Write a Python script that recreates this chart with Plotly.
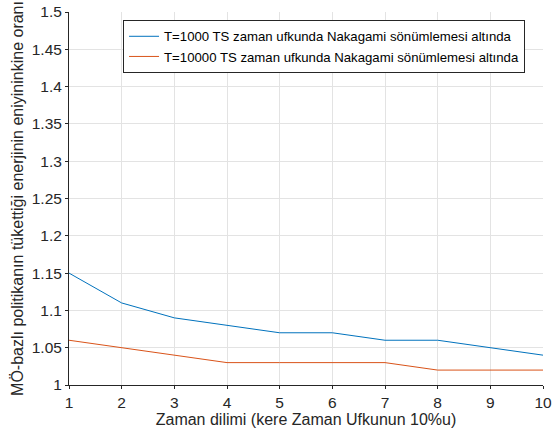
import plotly.graph_objects as go

x_vals = [1, 2, 3, 4, 5, 6, 7, 8, 9, 10]
t1000 = [1.15, 1.11, 1.09, 1.08, 1.07, 1.07, 1.06, 1.06, 1.05, 1.04]
t10000 = [1.06, 1.05, 1.04, 1.03, 1.03, 1.03, 1.03, 1.02, 1.02, 1.02]
names = ["T=1000 TS zaman ufkunda Nakagami sönümlemesi altında",
         "T=10000 TS zaman ufkunda Nakagami sönümlemesi altında"]
y_ticks = [1, 1.05, 1.1, 1.15, 1.2, 1.25, 1.3, 1.35, 1.4, 1.45, 1.5]
y_tick_text = ["1", "1.05", "1.1", "1.15", "1.2", "1.25", "1.3", "1.35", "1.4", "1.45", "1.5"]

fig = go.Figure()
fig.add_trace(go.Scatter(x=x_vals, y=t1000, mode="lines", name=names[0],
                         line=dict(color="#0072BD", width=1)))
fig.add_trace(go.Scatter(x=x_vals, y=t10000, mode="lines", name=names[1],
                         line=dict(color="#D95319", width=1)))

font = "Liberation Sans, Arial, sans-serif"
fig.update_layout(
    width=553, height=434,
    margin=dict(l=69, r=10, t=12, b=49),
    paper_bgcolor="white", plot_bgcolor="white",
    font=dict(family=font, color="#262626", size=15.5),
    showlegend=True,
    legend=dict(x=0.114, y=0.978, xanchor="left", yanchor="top",
                bgcolor="white", bordercolor="#262626", borderwidth=1,
                font=dict(size=13.2, color="black"),
                tracegroupgap=0, itemwidth=30),
    xaxis=dict(range=[1, 10], tickvals=x_vals, showgrid=True, gridcolor="#e3e3e3",
               showline=True, linecolor="#262626", linewidth=1, mirror=False,
               ticks="outside", ticklen=3, tickcolor="#262626", zeroline=False,
               automargin=False, ticklabeloverflow="allow",
               title=dict(text="Zaman dilimi (kere Zaman Ufkunun 10%u)", font=dict(size=16), standoff=4)),
    yaxis=dict(range=[1, 1.5], tickvals=y_ticks, ticktext=y_tick_text, showgrid=True,
               gridcolor="#e3e3e3", showline=True, linecolor="#262626", linewidth=1,
               ticks="outside", ticklen=3, tickcolor="#262626", zeroline=False,
               automargin=False, ticklabeloverflow="allow",
               title=dict(text="MÖ-bazlı politikanın tükettiği enerjinin eniyininkine oranı",
                          font=dict(size=16), standoff=4)),
)
fig.write_html("out.html", config={"displayModeBar": False},
               post_script="document.body.style.margin='0';document.body.style.overflow='hidden';")
